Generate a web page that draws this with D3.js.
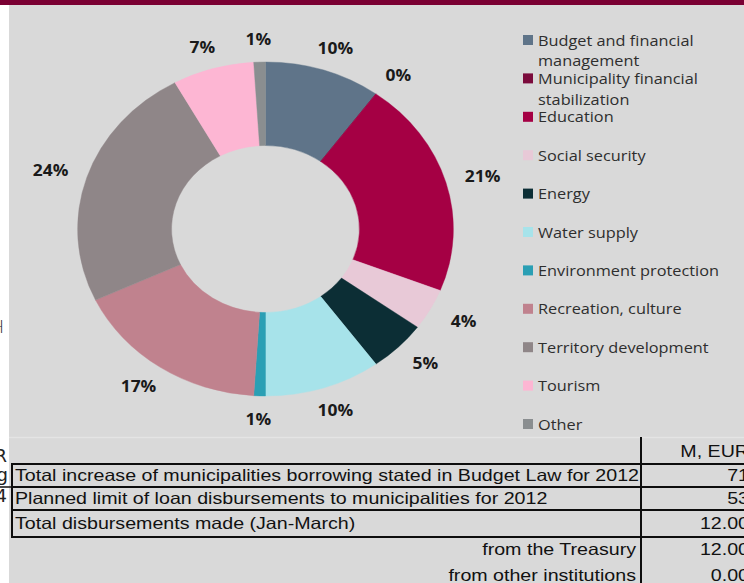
<!DOCTYPE html>
<html>
<head>
<meta charset="utf-8">
<script src="https://cdn.jsdelivr.net/npm/d3@7"></script>
<style>
  html, body { margin: 0; padding: 0; background: #ffffff; }
  svg { display: block; }
</style>
</head>
<body>
<svg id="chart" width="744" height="583"></svg>
<script>
// Loan purposes, share of total (%)
const categories = [
  "Budget and financial management",
  "Municipality financial stabilization",
  "Education",
  "Social security",
  "Energy",
  "Water supply",
  "Environment protection",
  "Recreation, culture",
  "Territory development",
  "Tourism",
  "Other"
];
const shares = [10, 0, 21, 4, 5, 10, 1, 17, 24, 7, 1];
const sliceColors = [
  "#5f7489", "#7b0b3c", "#a50044", "#e8c9d7", "#0c2e35", "#a7e3ea",
  "#2a9fb4", "#c0828e", "#8f8688", "#fdb6d3", "#8a8e90"
];

// Summary table (M, EUR)
const tableHeader = "M, EUR";
const tableLabels = [
  "Total increase of municipalities borrowing stated in Budget Law for 2012",
  "Planned limit of loan disbursements to municipalities for 2012",
  "Total disbursements made (Jan-March)",
  "from the Treasury",
  "from other institutions"
];
const tableValues = ["71", "53", "12.00", "12.00", "0.00"];
const tableSubRow = [false, false, false, true, true];

const svg = d3.select("#chart");
const W = 744, H = 583;
const stretch = 1.125;   // the slide is shown slightly widened

// slide backdrop
svg.append("rect").attr("x", 0).attr("y", 0).attr("width", W).attr("height", H).attr("fill", "#ffffff");
svg.append("rect").attr("x", 9).attr("y", 5).attr("width", W - 9).attr("height", H - 5).attr("fill", "#d9d9d9");
svg.append("rect").attr("x", 0).attr("y", 0).attr("width", W).attr("height", 5).attr("fill", "#7a0033");
svg.append("line").attr("x1", 9).attr("x2", W).attr("y1", 437.5).attr("y2", 437.5)
  .attr("stroke", "#e4e4e4").attr("stroke-width", 1.5);

// clipped text from neighbouring slide boxes
const side = svg.append("g").attr("font-family", "'DejaVu Sans', sans-serif").attr("fill", "#222");
side.append("text").attr("x", 4).attr("y", 333).attr("text-anchor", "end")
  .attr("font-size", 17).attr("font-weight", 300).text("H");
side.append("text").attr("x", 7).attr("y", 462).attr("text-anchor", "end")
  .attr("font-size", 18).text("R");
side.append("text").attr("x", 8).attr("y", 481).attr("text-anchor", "end")
  .attr("font-size", 18).text("g");
side.append("line").attr("x1", 0).attr("x2", 12).attr("y1", 487).attr("y2", 487)
  .attr("stroke", "#111").attr("stroke-width", 1.5);
side.append("text").attr("x", 7).attr("y", 502).attr("text-anchor", "end")
  .attr("font-size", 18).text("4");

// donut
const cx = 265.5, cy = 229;
const outerR = 167, innerR = 83.5;

const pie = d3.pie().sort(null).value(d => d).startAngle(0).endAngle(2 * Math.PI);
const arcs = pie(shares);
const arc = d3.arc().innerRadius(innerR).outerRadius(outerR);

const donut = svg.append("g").attr("transform", `translate(${cx},${cy}) scale(${stretch},1)`);
donut.selectAll("path")
  .data(arcs)
  .join("path")
  .attr("d", arc)
  .attr("fill", (d, i) => sliceColors[i])
  .attr("stroke", (d, i) => sliceColors[i])
  .attr("stroke-width", 0.4);

// percentage labels outside each slice
const labelRx = 226, labelRy = 190;
svg.append("g")
  .selectAll("text")
  .data(arcs)
  .join("text")
  .attr("transform", d => {
    const a = (d.startAngle + d.endAngle) / 2;
    const x = cx + labelRx * Math.sin(a);
    const y = cy - labelRy * Math.cos(a);
    return `translate(${x},${y}) scale(${stretch},1)`;
  })
  .attr("font-family", "'Open Sans', sans-serif")
  .attr("font-weight", 700)
  .attr("font-size", 15.5)
  .attr("fill", "#1a1a1a")
  .attr("text-anchor", "middle")
  .attr("dominant-baseline", "central")
  .text(d => d3.format(".0f")(d.value) + "%");

// legend
const legendX = 523, legendY0 = 40, legendStep = 38.4, lineH = 20.5, wrapW = 180;
const legend = svg.append("g")
  .attr("font-family", "'Open Sans', sans-serif")
  .attr("font-size", 14.5)
  .attr("fill", "#2e2e2e");

categories.forEach((name, i) => {
  const y = legendY0 + i * legendStep;
  legend.append("rect")
    .attr("x", legendX).attr("y", y - 5)
    .attr("width", 10).attr("height", 10)
    .attr("fill", sliceColors[i]);
  const t = legend.append("text")
    .attr("transform", `translate(${legendX + 15},${y}) scale(${stretch},1)`)
    .attr("dominant-baseline", "central");
  // simple word wrap
  const words = name.split(" ");
  let line = [];
  let tspan = t.append("tspan").attr("x", 0).attr("dy", 0);
  words.forEach(w => {
    line.push(w);
    tspan.text(line.join(" "));
    if (tspan.node().getComputedTextLength() > wrapW && line.length > 1) {
      line.pop();
      tspan.text(line.join(" "));
      line = [w];
      tspan = t.append("tspan").attr("x", 0).attr("dy", lineH).text(w);
    }
  });
});

// summary table
const tbl = svg.append("g");
const tLeft = 12, tDiv = 641, tRight = 760;
const rowTops = [464, 487, 510, 537, 562];
const rowBottoms = [487, 510, 537, 562, 590];
const headerY = 452;
const textStretch = 1.19;
const tFont = "'Liberation Sans', Arial, sans-serif";

function cellText(x, y, str, anchor) {
  tbl.append("text")
    .attr("transform", `translate(${x},${y}) scale(${textStretch},1)`)
    .attr("text-anchor", anchor)
    .attr("dominant-baseline", "central")
    .attr("font-family", tFont)
    .attr("font-size", 16.5)
    .attr("fill", "#111")
    .text(str);
}

cellText(749, headerY, tableHeader, "end");
tableLabels.forEach((lab, i) => {
  const y = (rowTops[i] + rowBottoms[i]) / 2;
  if (tableSubRow[i]) cellText(636, y, lab, "end");
  else cellText(15, y, lab, "start");
  cellText(749, y, tableValues[i], "end");
});

// grid lines
const stroke = "#0d0d0d";
[464, 487, 510, 537].forEach(y => {
  tbl.append("line").attr("x1", tLeft - 1).attr("x2", tRight).attr("y1", y).attr("y2", y)
    .attr("stroke", stroke).attr("stroke-width", 2);
});
tbl.append("line").attr("x1", tLeft).attr("x2", tLeft).attr("y1", 464).attr("y2", 537)
  .attr("stroke", stroke).attr("stroke-width", 2);
tbl.append("line").attr("x1", tDiv).attr("x2", tDiv).attr("y1", 437).attr("y2", 583)
  .attr("stroke", stroke).attr("stroke-width", 2);
</script>
</body>
</html>
